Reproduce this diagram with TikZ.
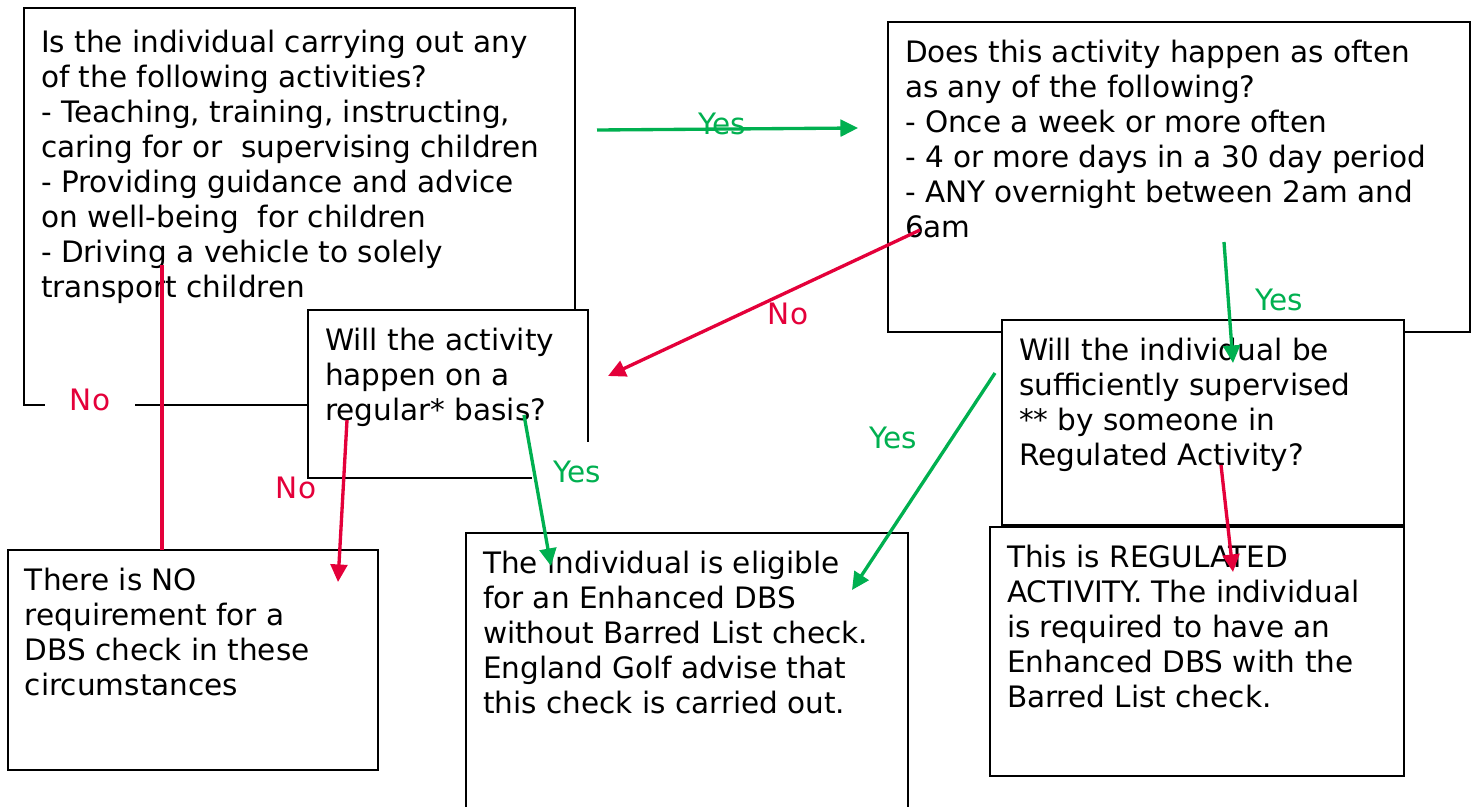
\documentclass[tikz,border=0pt]{standalone}
\usepackage{fontspec}
\setmainfont{DejaVu Sans}
\usetikzlibrary{arrows.meta}
\definecolor{yesgreen}{RGB}{0,176,80}
\definecolor{nored}{RGB}{228,0,58}
\newdimen\px \px=0.02cm
% text of a box: width, height (in px), lines
\newcommand{\boxtext}[3]{\parbox[t][#2\px][t]{#1\px}{\raggedright\rule{0pt}{40\px}#3}}

\tikzset{
  every node/.style={font=\fontsize{16.8}{20}\selectfont},
  box/.style={draw, fill=white, line width=0.9pt, anchor=north west,
    inner xsep=17\px, inner ysep=0pt, outer sep=0pt},
  yesarrow/.style={yesgreen, line width=1.9pt, -{Triangle[length=10pt,width=9.5pt]}},
  noarrow/.style={nored, line width=1.9pt, -{Triangle[length=10pt,width=9.5pt]}},
  yeslabel/.style={text=yesgreen, inner sep=0pt},
  nolabel/.style={text=nored, inner sep=0pt},
}

\begin{document}
\begin{tikzpicture}[x=0.02cm, y=-0.02cm]
        \fill[white] (0,0) rectangle (1477,806);
        \useasboundingbox (0,0) rectangle (1477,806);

        % questions
        \node[box] (activities) at (24,8) {\boxtext{517}{397}{\rule{0pt}{44\px}Is the individual carrying out any\\
          of the following activities?\\
          - Teaching, training, instructing,\\
          caring for or \ supervising children\\
          - Providing guidance and advice\\
          on well-being \ for children\\
          - Driving a vehicle to solely\\
          transport children}};
        \node[box] (regular) at (308,310) {\boxtext{246}{168}{Will the activity\\
          happen on a\\
          regular* basis?}};
        \node[box] (often) at (888,22) {\boxtext{548}{310}{Does this activity happen as often\\
          as any of the following?\\
          - Once a week or more often\\
          - 4 or more days in a 30 day period\\
          - ANY overnight between 2am and\\
          6am}};
        \node[box] (supervised) at (1002,320) {\boxtext{368}{205}{Will the individual be\\
          sufficiently supervised\\
          {}** by someone in\\
          Regulated Activity?}};

        % outcomes
        \node[box] (regulated) at (990,527) {\boxtext{380}{249}{This is REGULATED\\
          ACTIVITY. The individual\\
          is required to have an\\
          Enhanced DBS with the\\
          Barred List check.}};
        \node[box] (nodbs) at (8,550) {\boxtext{336}{220}{There is NO\\
          requirement for a\\
          DBS check in these\\
          circumstances}};
        \node[box] (eligible) at (466,533) {\boxtext{408}{300}{The individual is eligible\\
          for an Enhanced DBS\\
          without Barred List check.\\
          England Golf advise that\\
          this check is carried out.}};

        % labels that sit on a box edge
        \node[nolabel, fill=white, inner xsep=25\px, inner ysep=3pt] (noleft) at (90,400) {No};
        \node[yeslabel, fill=white, inner xsep=21\px, inner ysep=19\px] (yesregular) at (577,472) {Yes};

        % ends of the connectors
        \coordinate (s1) at (597,130);  \coordinate (e1) at (858,128);
        \coordinate (s2) at (920,230);  \coordinate (e2) at (608,376);
        \coordinate (s3) at (1224,242); \coordinate (e3) at (1233,363);
        \coordinate (s4) at (995,373);  \coordinate (e4) at (852,590);
        \coordinate (s5) at (162,265);  \coordinate (e5) at (162,550);
        \coordinate (s6) at (347,420);  \coordinate (e6) at (338,582);
        \coordinate (s7) at (524,415);  \coordinate (e7) at (551,566);
        \coordinate (s8) at (1221,465); \coordinate (e8) at (1233,572);

        \draw[yesarrow] (s1) -- (e1);
        \draw[noarrow] (s2) -- (e2);
        \draw[yesarrow] (s3) -- (e3);
        \draw[yesarrow] (s4) -- (e4);
        \draw[noarrow, -] (s5) -- (e5);
        \draw[noarrow] (s6) -- (e6);
        \draw[yesarrow] (s7) -- (e7);
        \draw[noarrow] (s8) -- (e8);

        \node[yeslabel] (yesoften) at (722,124) {Yes};
        \node[nolabel] (nooften) at (788,314) {No};
        \node[yeslabel] (yessuper) at (1279,300) {Yes};
        \node[yeslabel] (yeselig) at (893,438) {Yes};
        \node[nolabel] (noregular) at (296,488) {No};
        \end{tikzpicture}
\end{document}
